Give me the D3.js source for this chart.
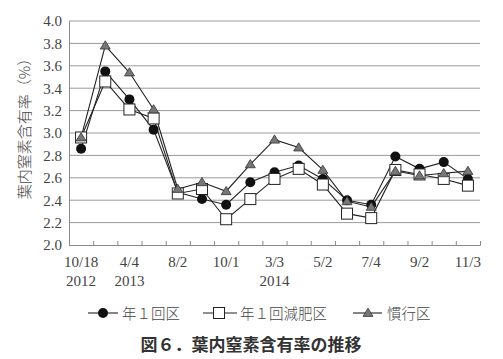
<!DOCTYPE html>
<html><head><meta charset="utf-8">
<script src="https://cdn.jsdelivr.net/npm/d3@7"></script>
<style>
html,body{margin:0;padding:0;background:#fff;}
svg{display:block;}
</style></head>
<body>
<svg id="c" width="503" height="359"></svg>
<script>
// 17 sampling occasions (index), labels shown on every second one
const samples = [0,1,2,3,4,5,6,7,8,9,10,11,12,13,14,15,16];
const dateLabels = ["10/18","","4/4","","8/2","","10/1","","3/3","","5/2","","7/4","","9/2","","11/3"];
const yearLabels = ["2012","","2013","","","","","","2014","","","","","","","",""];
const seriesNames = ["年１回区","年１回減肥区","慣行区"];
const nenIkkai     = [2.86,3.55,3.30,3.03,2.47,2.41,2.36,2.56,2.65,2.71,2.59,2.40,2.36,2.79,2.68,2.74,2.59];
const nenIkkaiGen  = [2.96,3.46,3.21,3.13,2.46,2.50,2.23,2.41,2.59,2.68,2.54,2.28,2.24,2.67,2.63,2.59,2.53];
const kanko        = [2.96,3.78,3.54,3.21,2.50,2.56,2.48,2.72,2.94,2.87,2.67,2.39,2.34,2.66,2.62,2.64,2.66];
const yTicks = [2.0,2.2,2.4,2.6,2.8,3.0,3.2,3.4,3.6,3.8,4.0];

const svg = d3.select("#c");
const L=69, R=480, T=21, B=245;
const x = d3.scaleLinear().domain([0, samples.length]).range([L, R]);
const y = d3.scaleLinear().domain([2.0, 4.0]).range([B, T]);
const serif = "'Liberation Serif','DejaVu Serif',serif";
const jp = "'Noto Sans CJK JP','Noto Sans',sans-serif";

// grid
svg.append("g").selectAll("line").data(yTicks.slice(1)).join("line")
  .attr("x1",L).attr("x2",R).attr("y1",d=>y(d)).attr("y2",d=>y(d))
  .attr("stroke","#9a9a9a").attr("stroke-width",1);

// y axis
const ya = svg.append("g").attr("transform",`translate(${L},0)`)
  .call(d3.axisLeft(y).tickValues(yTicks).tickFormat(d3.format(".1f")).tickSize(0).tickPadding(7));
ya.select(".domain").attr("stroke","#8a8a8a");
ya.selectAll("text").attr("font-family",serif).attr("font-size",15).attr("fill","#444");

// x axis: tick marks at sample boundaries, pointing up
const xa = svg.append("g").attr("transform",`translate(0,${B})`)
  .call(d3.axisBottom(x).tickValues(d3.range(samples.length+1)).tickSize(-4).tickFormat(""));
xa.select(".domain").attr("stroke","#8a8a8a");
xa.selectAll(".tick line").attr("stroke","#8a8a8a");

const xc = i => x(i+0.5);
svg.append("g").selectAll("text").data(samples).join("text")
  .attr("x",d=>xc(d)).attr("y",267).attr("text-anchor","middle")
  .attr("font-family",serif).attr("font-size",15).attr("fill","#444")
  .text(d=>dateLabels[d]);
svg.append("g").selectAll("text").data(samples).join("text")
  .attr("x",d=>xc(d)).attr("y",286).attr("text-anchor","middle")
  .attr("font-family",serif).attr("font-size",15).attr("fill","#444")
  .text(d=>yearLabels[d]);

// y label
svg.append("text").attr("transform","translate(30,125) rotate(-90)")
  .attr("text-anchor","middle").attr("font-family",jp).attr("font-size",15)
  .attr("fill","#444").attr("font-weight",300).text("葉内窒素含有率（%）");

// series
const line = d3.line().x((d,i)=>xc(i)).y(d=>y(d));
const data = [nenIkkai, nenIkkaiGen, kanko];
const triPath = `M0,-4.8L5,3.4L-5,3.4Z`;
function marker(g, k){
  if(k===0) g.append("circle").attr("r",5).attr("fill","#111");
  else if(k===1) g.append("rect").attr("x",-5.5).attr("y",-5.5).attr("width",11).attr("height",11)
      .attr("fill","#fff").attr("stroke","#222").attr("stroke-width",1);
  else g.append("path").attr("d",triPath).attr("fill","#777").attr("stroke","#333").attr("stroke-width",0.8);
}
data.forEach((vals,k)=>{
  svg.append("path").datum(vals).attr("d",line).attr("fill","none")
    .attr("stroke","#222").attr("stroke-width",1.1);
});
data.forEach((vals,k)=>{
  vals.forEach((v,i)=>{
    const g = svg.append("g").attr("transform",`translate(${xc(i)},${y(v)})`);
    marker(g,k);
  });
});

// legend
const legX = [88, 203, 353];
const legW = [30, 34, 29];
const legM = [15, 16, 15];
const legText = [122, 240, 387];
seriesNames.forEach((n,k)=>{
  const cx = legX[k];
  svg.append("line").attr("x1",cx).attr("x2",cx+legW[k]).attr("y1",313).attr("y2",313)
    .attr("stroke","#222").attr("stroke-width",1.1);
  const g = svg.append("g").attr("transform",`translate(${cx+legM[k]},313)`);
  marker(g,k);
  svg.append("text").attr("x",legText[k]).attr("y",318.5).attr("font-family",jp)
    .attr("font-size",14.5).attr("fill","#444").attr("font-weight",300).text(n);
});

// caption
svg.append("text").attr("x",251).attr("y",351).attr("text-anchor","middle")
  .attr("font-family",jp).attr("font-weight",700).attr("font-size",17).attr("fill","#333")
  .text("図６．葉内窒素含有率の推移");
</script>
</body></html>
